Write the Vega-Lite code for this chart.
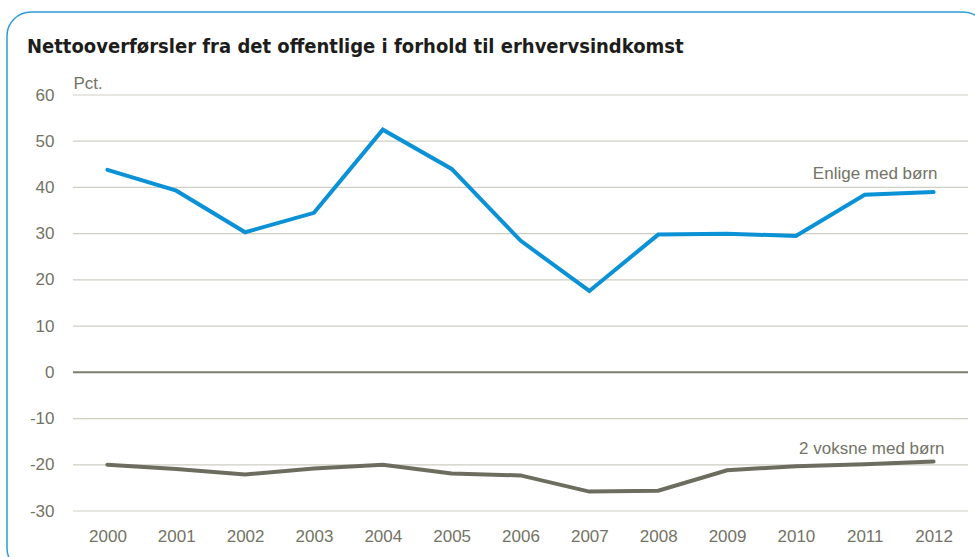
{
  "$schema": "https://vega.github.io/schema/vega-lite/v6.json",
  "width": 980,
  "height": 560,
  "autosize": {"type": "none"},
  "padding": {"left": 7, "top": 12, "right": 0, "bottom": 0},
  "background": "white",
  "config": {
    "view": {"stroke": "#2a9bd8", "strokeWidth": 1.5, "cornerRadius": 24, "fill": "white"},
    "font": "Liberation Sans"
  },
  "title": {
    "text": "Nettooverførsler fra det offentlige i forhold til erhvervsindkomst",
    "anchor": "start",
    "frame": "group",
    "font": "DejaVu Sans Condensed, Liberation Sans Narrow, sans-serif",
    "fontSize": 20,
    "fontWeight": "bold",
    "color": "#1d1d1b",
    "offset": 0,
    "dx": 20,
    "dy": 45
  },
  "datasets": {
    "series": [
      {"year": 2000, "series": "Enlige med børn", "value": 43.8},
      {"year": 2001, "series": "Enlige med børn", "value": 39.3},
      {"year": 2002, "series": "Enlige med børn", "value": 30.3},
      {"year": 2003, "series": "Enlige med børn", "value": 34.5},
      {"year": 2004, "series": "Enlige med børn", "value": 52.5},
      {"year": 2005, "series": "Enlige med børn", "value": 44.0},
      {"year": 2006, "series": "Enlige med børn", "value": 28.5},
      {"year": 2007, "series": "Enlige med børn", "value": 17.6},
      {"year": 2008, "series": "Enlige med børn", "value": 29.8},
      {"year": 2009, "series": "Enlige med børn", "value": 30.0},
      {"year": 2010, "series": "Enlige med børn", "value": 29.5},
      {"year": 2011, "series": "Enlige med børn", "value": 38.4},
      {"year": 2012, "series": "Enlige med børn", "value": 39.0},
      {"year": 2000, "series": "2 voksne med børn", "value": -20.0},
      {"year": 2001, "series": "2 voksne med børn", "value": -20.9},
      {"year": 2002, "series": "2 voksne med børn", "value": -22.1},
      {"year": 2003, "series": "2 voksne med børn", "value": -20.8},
      {"year": 2004, "series": "2 voksne med børn", "value": -20.0},
      {"year": 2005, "series": "2 voksne med børn", "value": -21.9},
      {"year": 2006, "series": "2 voksne med børn", "value": -22.3},
      {"year": 2007, "series": "2 voksne med børn", "value": -25.8},
      {"year": 2008, "series": "2 voksne med børn", "value": -25.6},
      {"year": 2009, "series": "2 voksne med børn", "value": -21.2},
      {"year": 2010, "series": "2 voksne med børn", "value": -20.3},
      {"year": 2011, "series": "2 voksne med børn", "value": -19.9},
      {"year": 2012, "series": "2 voksne med børn", "value": -19.3}
    ],
    "grid": [
      {"value": -30}, {"value": -20}, {"value": -10}, {"value": 0}, {"value": 10},
      {"value": 20}, {"value": 30}, {"value": 40}, {"value": 50}, {"value": 60}
    ],
    "labels": [
      {"label": "Enlige med børn", "year": 2012, "value": 41.8},
      {"label": "2 voksne med  børn", "year": 2012, "value": -17.6}
    ]
  },
  "layer": [
    {
      "data": {"name": "grid"},
      "mark": {"type": "rule"},
      "encoding": {
        "x": {"datum": 1999.5, "type": "quantitative"},
        "x2": {"datum": 2012.5},
        "y": {"field": "value", "type": "quantitative"},
        "color": {
          "condition": {"test": "datum.value === 0", "value": "#7d7d6e"},
          "value": "#cfcec3"
        },
        "strokeWidth": {
          "condition": {"test": "datum.value === 0", "value": 2},
          "value": 1.2
        }
      }
    },
    {
      "data": {"name": "series"},
      "mark": {"type": "line", "strokeWidth": 4, "strokeCap": "round", "strokeJoin": "miter"},
      "encoding": {
        "x": {
          "field": "year",
          "type": "quantitative",
          "scale": {"domain": [1999.5, 2012.5], "range": [66, 961], "nice": false, "zero": false},
          "axis": {
            "values": [2000, 2001, 2002, 2003, 2004, 2005, 2006, 2007, 2008, 2009, 2010, 2011, 2012],
            "format": "d",
            "title": null,
            "grid": false,
            "domain": false,
            "ticks": false,
            "tickSize": 0,
            "offset": -61,
            "labelPadding": 17,
            "labelFont": "Liberation Sans",
            "labelFontSize": 17,
            "labelColor": "#737366",
            "labelOverlap": false,
            "labelFlush": false
          }
        },
        "y": {
          "field": "value",
          "type": "quantitative",
          "scale": {"domain": [-30, 60], "range": [499, 83], "nice": false, "zero": false},
          "axis": {
            "values": [-30, -20, -10, 0, 10, 20, 30, 40, 50, 60],
            "labelExpr": "datum.value + ''",
            "title": "Pct.",
            "titleAngle": 0,
            "titleAlign": "left",
            "titleBaseline": "alphabetic",
            "titleX": 66,
            "titleY": 76,
            "titleFont": "Liberation Sans",
            "titleFontSize": 17,
            "titleFontWeight": "normal",
            "titleColor": "#737366",
            "grid": false,
            "domain": false,
            "ticks": false,
            "tickSize": 0,
            "labelPadding": -47,
            "labelFont": "Liberation Sans",
            "labelFontSize": 17,
            "labelColor": "#737366",
            "labelOverlap": false,
            "labelFlush": false
          }
        },
        "color": {
          "field": "series",
          "type": "nominal",
          "scale": {"domain": ["Enlige med børn", "2 voksne med børn"], "range": ["#0a91d6", "#6d6d5f"]},
          "legend": null
        }
      }
    },
    {
      "data": {"name": "labels"},
      "transform": [{"filter": "datum.label === 'Enlige med børn'"}],
      "mark": {"type": "text", "align": "right", "baseline": "alphabetic", "dx": 4, "font": "Liberation Sans", "fontSize": 17, "color": "#737366"},
      "encoding": {
        "x": {"field": "year", "type": "quantitative"},
        "y": {"field": "value", "type": "quantitative"},
        "text": {"field": "label"}
      }
    },
    {
      "data": {"name": "labels"},
      "transform": [{"filter": "datum.label !== 'Enlige med børn'"}],
      "mark": {"type": "text", "align": "right", "baseline": "alphabetic", "dx": 11, "font": "Liberation Sans", "fontSize": 17, "color": "#737366"},
      "encoding": {
        "x": {"field": "year", "type": "quantitative"},
        "y": {"field": "value", "type": "quantitative"},
        "text": {"field": "label"}
      }
    }
  ]
}
